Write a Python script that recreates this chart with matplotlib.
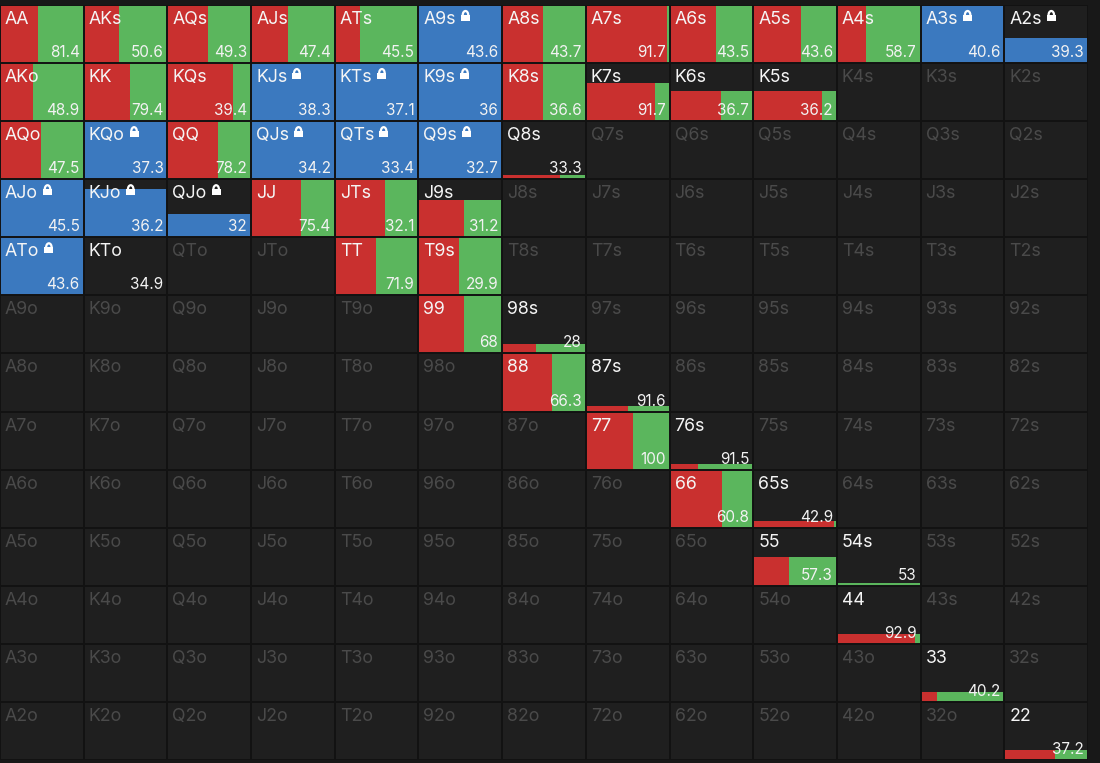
import matplotlib
matplotlib.use("Agg")
import matplotlib.pyplot as plt
from matplotlib.patches import Rectangle, Arc

plt.rcParams['font.family'] = ['Inter', 'DejaVu Sans']

ranks = "AKQJT98765432"

# hands that are in the range
hands = ["AA", "AKs", "AQs", "AJs", "ATs", "A9s", "A8s", "A7s", "A6s", "A5s", "A4s", "A3s", "A2s",
         "AKo", "KK", "KQs", "KJs", "KTs", "K9s", "K8s", "K7s", "K6s", "K5s",
         "AQo", "KQo", "QQ", "QJs", "QTs", "Q9s", "Q8s",
         "AJo", "KJo", "QJo", "JJ", "JTs", "J9s",
         "ATo", "KTo", "TT", "T9s",
         "99", "98s", "88", "87s", "77", "76s", "66", "65s",
         "55", "54s", "44", "33", "22"]
# share of the cell that is filled (from the bottom)
heights = [1, 1, 1, 1, 1, 1, 1, 1, 1, 1, 1, 1, 0.43,
           1, 1, 1, 1, 1, 1, 1, 0.66, 0.52, 0.52,
           1, 1, 1, 1, 1, 1, 0.07,
           1, 0.83, 0.40, 1, 1, 0.64,
           1, 0, 1, 1,
           1, 0.16, 1, 0.09, 1, 0.09, 1, 0.12,
           0.50, 0.05, 0.17, 0.17, 0.17]
# share of the fill that is red (rest green)
red_share = [0.46, 0.42, 0.48, 0.44, 0.30, 0, 0.49, 0.97, 0.55, 0.57, 0.35, 0, 0,
             0.40, 0.55, 0.78, 0, 0, 0, 0.49, 0.83, 0.61, 0.82,
             0.49, 0, 0.60, 0, 0, 0, 0.69,
             0, 0, 0, 0.60, 0.60, 0.54,
             0, 0, 0.49, 0.48,
             0.54, 0.41, 0.59, 0.50, 0.56, 0.34, 0.63, 0.97,
             0.43, 0.0, 0.93, 0.20, 0.60]
values = [81.4, 50.6, 49.3, 47.4, 45.5, 43.6, 43.7, 91.7, 43.5, 43.6, 58.7, 40.6, 39.3,
          48.9, 79.4, 39.4, 38.3, 37.1, 36, 36.6, 91.7, 36.7, 36.2,
          47.5, 37.3, 78.2, 34.2, 33.4, 32.7, 33.3,
          45.5, 36.2, 32, 75.4, 32.1, 31.2,
          43.6, 34.9, 71.9, 29.9,
          68, 28, 66.3, 91.6, 100, 91.5, 60.8, 42.9,
          57.3, 53, 92.9, 40.2, 37.2]
locked = ["A9s", "A3s", "A2s", "KJs", "KTs", "K9s", "KQo", "QJs", "QTs", "Q9s",
          "AJo", "KJo", "QJo", "ATo"]

RED = '#c9302f'
GREEN = '#5bb65d'
BLUE = '#3b79bf'

W, H = 1100, 763
fig = plt.figure(figsize=(W / 100, H / 100), dpi=100)
fig.patch.set_facecolor('#181818')
ax = fig.add_axes([0, 3 / H, 1088 / W, 755 / H])
ax.set_facecolor('#1f1f1f')
ax.set_xlim(0, 13)
ax.set_ylim(13, 0)
ax.axis('off')
ax.add_patch(Rectangle((0, 0), 13, 13, color='#1f1f1f', zorder=0))

px = 13 / 1088
py = 13 / 755


def hand_name(r, c):
    if r == c:
        return ranks[r] + ranks[c]
    if r < c:
        return ranks[r] + ranks[c] + 's'
    return ranks[c] + ranks[r] + 'o'


info = {h: (heights[i], red_share[i], values[i]) for i, h in enumerate(hands)}

labels = []
for r in range(13):
    for c in range(13):
        name = hand_name(r, c)
        active = name in info
        if active:
            h, rs, v = info[name]
            top = r + 1 - h
            if name in locked:
                ax.add_patch(Rectangle((c, top), 1, h, color=BLUE, lw=0, zorder=1))
            else:
                ax.add_patch(Rectangle((c, top), rs, h, color=RED, lw=0, zorder=1))
                ax.add_patch(Rectangle((c + rs, top), 1 - rs, h, color=GREEN, lw=0, zorder=1))
            ax.text(c + 1 - 4 * px, r + 1 - 6 * py, f"{v:g}", color='#f2f2f2',
                    fontsize=11, ha='right', va='baseline', zorder=3)
        t = ax.text(c + 5 * px, r + 19 * py, name,
                    color='#f5f5f5' if active else '#4a4a4a',
                    fontsize=12.8, ha='left', va='baseline', zorder=3)
        if name in locked:
            labels.append((t, r))

# cell borders
for k in range(14):
    ax.plot([k, k], [0, 13], color='#121212', lw=1.4, zorder=2, solid_capstyle='butt')
    ax.plot([0, 13], [k, k], color='#121212', lw=1.4, zorder=2, solid_capstyle='butt')

# small lock icons after the locked hand names
fig.canvas.draw()
inv = ax.transData.inverted()
for t, r in labels:
    bb = t.get_window_extent()
    x0, _ = inv.transform((bb.x1, bb.y0))
    x0 += 5 * px
    base = r + 16 * py
    ax.add_patch(Rectangle((x0, base - 6 * py), 9 * px, 6 * py, color='white', lw=0, zorder=4))
    ax.add_patch(Arc((x0 + 4.5 * px, base - 6 * py), 5.5 * px, 8 * py, theta1=180, theta2=360,
                     color='white', lw=1.6, zorder=4))

fig.savefig('out.png', dpi=100, facecolor=fig.get_facecolor())
